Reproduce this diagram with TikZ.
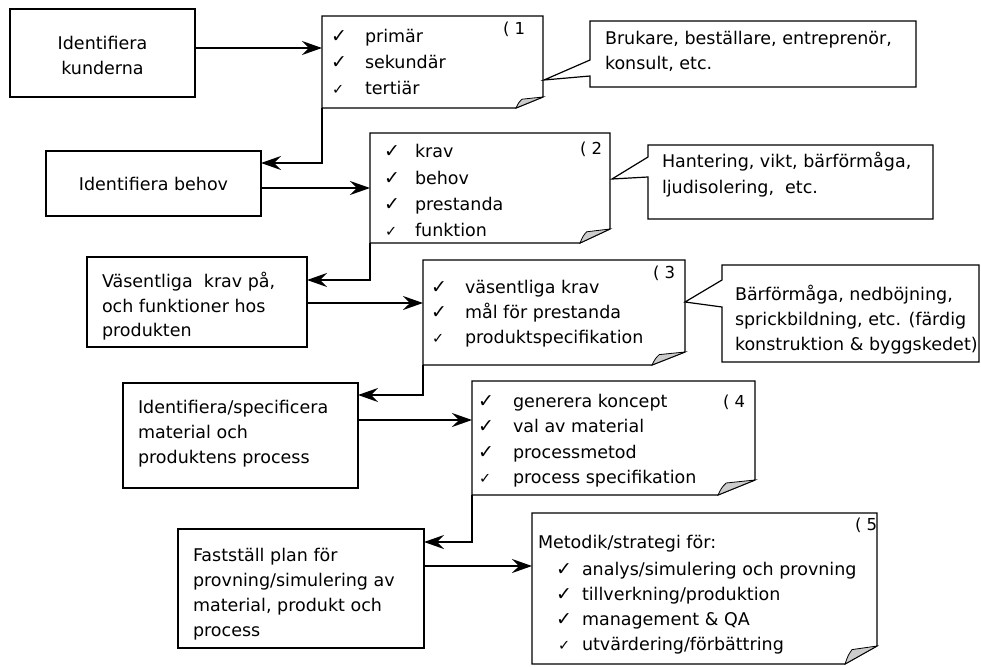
\documentclass[tikz,border=0pt]{standalone}
\usepackage{fontspec}
\setmainfont{DejaVu Sans}
\usetikzlibrary{arrows.meta}
\newcommand\tf{\fontsize{17.5}{21}\selectfont}
\newcommand\nf{\fontsize{16.5}{18}\selectfont}
\newcommand\ckn{\fontsize{19}{19}\selectfont}
\newcommand\cks{\fontsize{14.5}{14.5}\selectfont}
\newcommand\notedraw[3]{%
  \draw[noteline] (#1.north west) -- (#1.north east) -- ([yshift=#3pt]#1.south east)
     -- ([xshift=-#2pt]#1.south east) -- (#1.south west) -- cycle;
  \draw[foldline] ([xshift=-#2pt]#1.south east) -- ([yshift=#3pt]#1.south east)
     -- ([xshift=-0.78*#2pt,yshift=0.8*#3pt]#1.south east)
     .. controls ([xshift=-0.9*#2pt,yshift=0.5*#3pt]#1.south east) .. ([xshift=-#2pt]#1.south east) -- cycle;}
\tikzset{
  every node/.style={inner sep=0pt, outer sep=0pt},
  boxnode/.style={draw, line width=1.3pt, fill=white},
  hold/.style={},
  noteline/.style={line width=1.2pt, fill=white, line join=miter},
  foldline/.style={line width=0.8pt, fill=gray!40},
  callline/.style={line width=1.2pt, fill=white},
  arr/.style={line width=1.4pt, -{Stealth[length=20pt,width=14pt,inset=7pt]}},
  tc/.style={anchor=base, font=\tf},
  tl/.style={anchor=base west, font=\tf},
  ck/.style={anchor=base west, font=\ckn},
  cs/.style={anchor=base west, font=\cks},
  num/.style={anchor=base west, font=\nf},
}
\begin{document}
\begin{tikzpicture}[x=1pt,y=-1pt]
\useasboundingbox[fill=white] (0,0) rectangle (981,666);

% ---------- process boxes ----------
\node[boxnode, minimum width=185pt, minimum height=88pt] (A) at (102.5,53) {};
\node[boxnode, minimum width=215pt, minimum height=65pt] (B) at (153.5,183.5) {};
\node[boxnode, minimum width=220pt, minimum height=90pt] (C) at (197,302) {};
\node[boxnode, minimum width=235pt, minimum height=105pt] (D) at (240.5,435.5) {};
\node[boxnode, minimum width=246pt, minimum height=119pt] (E) at (301,588.5) {};

% ---------- note frames (shapes drawn below) ----------
\node[hold, minimum width=221pt, minimum height=92pt] (N1) at (432.5,62) {};
\node[hold, minimum width=240pt, minimum height=110pt] (N2) at (490,188) {};
\node[hold, minimum width=262pt, minimum height=105pt] (N3) at (554,312.5) {};
\node[hold, minimum width=283pt, minimum height=114pt] (N4) at (613.5,438) {};
\node[hold, minimum width=345pt, minimum height=151pt] (N5) at (704.5,588.5) {};
\notedraw{N1}{27}{11}
\notedraw{N2}{30}{14}
\notedraw{N3}{33}{13}
\notedraw{N4}{37}{15}
\notedraw{N5}{32}{18}

% ---------- callouts ----------
\node[hold, minimum width=326pt, minimum height=66pt] (K1) at (753,54) {};
\node[hold, minimum width=285pt, minimum height=74pt] (K2) at (790.5,182) {};
\node[hold, minimum width=257pt, minimum height=97pt] (K3) at (850.5,313.5) {};
\coordinate (k1tip) at (544,80);
\coordinate (k2tip) at (612,179);
\coordinate (k3tip) at (685,302);
\draw[callline] (K1.north west) -- (K1.north east) -- (K1.south east) -- (K1.south west)
  -- (K1.west |- 0,76) -- (k1tip) -- (K1.west |- 0,60) -- cycle;
\draw[callline] (K2.north west) -- (K2.north east) -- (K2.south east) -- (K2.south west)
  -- (K2.west |- 0,177) -- (k2tip) -- (K2.west |- 0,157) -- cycle;
\draw[callline] (K3.north west) -- (K3.north east) -- (K3.south east) -- (K3.south west)
  -- (K3.west |- 0,307) -- (k3tip) -- (K3.west |- 0,280) -- cycle;

% ---------- connectors ----------
\draw[arr] (A.east |- 0,48) -- (N1.west |- 0,48);
\draw[arr] (N1.south west) |- (B.east |- 0,163);
\draw[arr] (B.east |- 0,188) -- (N2.west |- 0,188);
\draw[arr] (N2.south west) |- (C.east |- 0,280);
\draw[arr] (C.east |- 0,303) -- (N3.west |- 0,303);
\draw[arr] (N3.south west) |- (D.east |- 0,395);
\draw[arr] (D.east |- 0,420) -- (N4.west |- 0,420);
\draw[arr] (N4.south west) |- (E.east |- 0,542);
\draw[arr] (E.east |- 0,566) -- (N5.west |- 0,566);

% ---------- box texts ----------
\node[tc] (a1) at (102.5,50) {Identifiera};
\node[tc] (a2) at (102.5,75) {kunderna};
\node[tc] (b1) at (153.5,190) {Identifiera behov};
\node[tl] (c1) at (102,287) {Väsentliga\ \ krav på,};
\node[tl] (c2) at (102,312) {och funktioner hos};
\node[tl] (c3) at (102,336) {produkten};
\node[tl] (d1) at (138,413) {Identifiera/specificera};
\node[tl] (d2) at (138,438) {material och};
\node[tl] (d3) at (138,463) {produktens process};
\node[tl] (e1) at (193,561) {Fastställ plan för};
\node[tl] (e2) at (193,586) {provning/simulering av};
\node[tl] (e3) at (193,611) {material, produkt och};
\node[tl] (e4) at (193,636) {process};

% ---------- note 1 ----------
\node[num] (n1n) at (503,35) {( 1};
\node[ck] (n1c1) at (331,43) {✓};
\node[ck] (n1c2) at (331,69) {✓};
\node[cs] (n1c3) at (332,95) {✓};
\node[tl] (n1t1) at (365,43) {primär};
\node[tl] (n1t2) at (365,69) {sekundär};
\node[tl] (n1t3) at (365,95) {tertiär};

% ---------- note 2 ----------
\node[num] (n2n) at (580,154) {( 2};
\node[ck] (n2c1) at (384,157) {✓};
\node[ck] (n2c2) at (384,184) {✓};
\node[ck] (n2c3) at (384,210) {✓};
\node[cs] (n2c4) at (385,236) {✓};
\node[tl] (n2t1) at (415,157) {krav};
\node[tl] (n2t2) at (415,184) {behov};
\node[tl] (n2t3) at (415,210) {prestanda};
\node[tl] (n2t4) at (415,236) {funktion};

% ---------- note 3 ----------
\node[num] (n3n) at (653,278) {( 3};
\node[ck] (n3c1) at (431,293) {✓};
\node[ck] (n3c2) at (431,318) {✓};
\node[cs] (n3c3) at (432,343) {✓};
\node[tl] (n3t1) at (465,293) {väsentliga krav};
\node[tl] (n3t2) at (465,318) {mål för prestanda};
\node[tl] (n3t3) at (465,343) {produktspecifikation};

% ---------- note 4 ----------
\node[num] (n4n) at (723,407) {( 4};
\node[ck] (n4c1) at (478,407) {✓};
\node[ck] (n4c2) at (478,432) {✓};
\node[ck] (n4c3) at (478,458) {✓};
\node[cs] (n4c4) at (479,483) {✓};
\node[tl] (n4t1) at (513,407) {generera koncept};
\node[tl] (n4t2) at (513,432) {val av material};
\node[tl] (n4t3) at (513,458) {processmetod};
\node[tl] (n4t4) at (513,483) {process specifikation};

% ---------- note 5 ----------
\node[num] (n5n) at (855,530) {( 5};
\node[tl] (n5h) at (538,548) {Metodik/strategi för:};
\node[ck] (n5c1) at (556,575) {✓};
\node[ck] (n5c2) at (556,600) {✓};
\node[ck] (n5c3) at (556,625) {✓};
\node[cs] (n5c4) at (558,650) {✓};
\node[tl] (n5t1) at (582,575) {analys/simulering och provning};
\node[tl] (n5t2) at (582,600) {tillverkning/produktion};
\node[tl] (n5t3) at (582,625) {management \& QA};
\node[tl] (n5t4) at (582,650) {utvärdering/förbättring};

% ---------- callout texts ----------
\node[tl] (k1a) at (605,45) {Brukare, beställare, entreprenör,};
\node[tl] (k1b) at (605,70) {konsult, etc.};
\node[tl] (k2a) at (662,167) {Hantering, vikt, bärförmåga,};
\node[tl] (k2b) at (662,193) {ljudisolering,\ \ etc.};
\node[tl] (k3a) at (735,300) {Bärförmåga, nedböjning,};
\node[tl] (k3b) at (735,325) {sprickbildning, etc. (färdig};
\node[tl] (k3c) at (735,350) {konstruktion \& byggskedet)};
\end{tikzpicture}
\end{document}
